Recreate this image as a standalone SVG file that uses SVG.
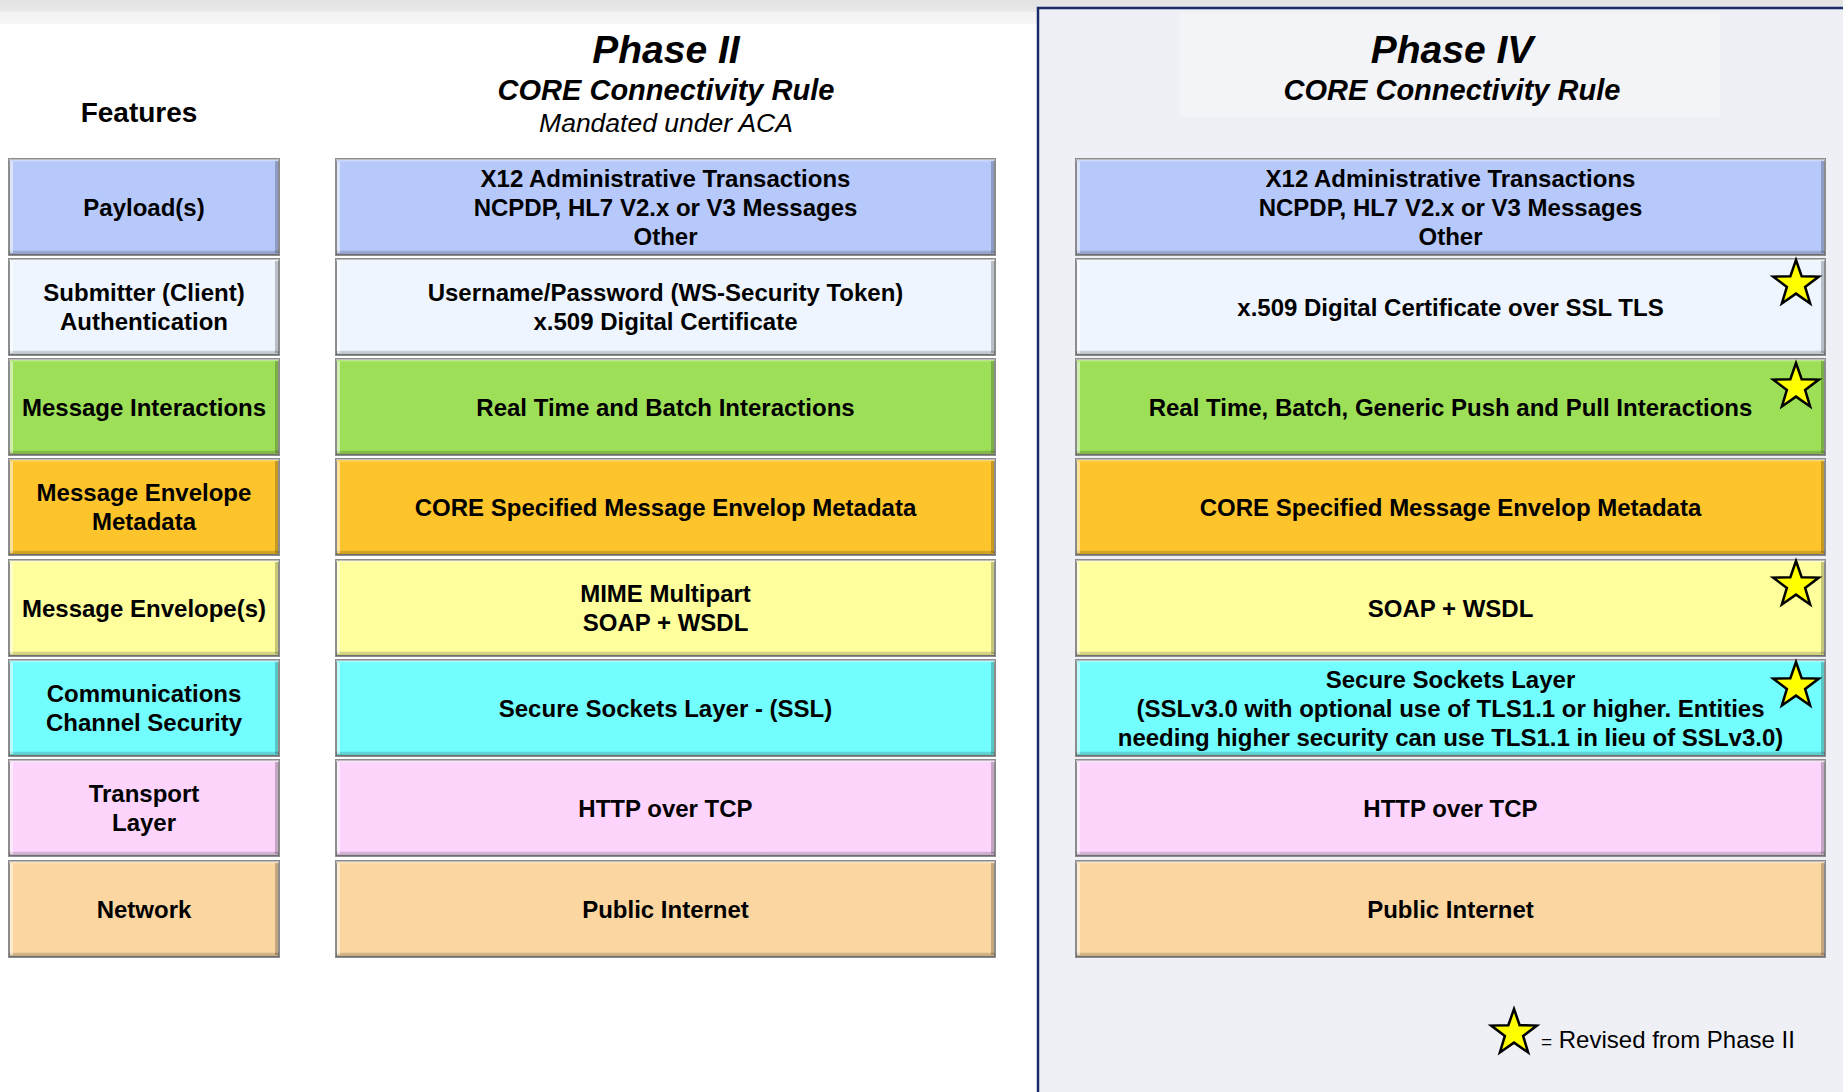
<svg xmlns="http://www.w3.org/2000/svg" xmlns:xlink="http://www.w3.org/1999/xlink" width="1843" height="1092" viewBox="0 0 1843 1092">
<defs>
<style>
text{font-family:"Liberation Sans",Arial,sans-serif;fill:#000;text-anchor:middle}
.b{font-weight:bold;font-size:24px}
.hd{font-weight:bold;font-style:italic}
.box{stroke:#8c8c8c;stroke-width:2}
.lt{fill:none;stroke:#ffffff;stroke-opacity:0.5;stroke-width:3}
.dk{fill:none;stroke:#000000;stroke-opacity:0.22;stroke-width:3}
.star{fill:#ffff00;stroke:#000;stroke-width:2.5;stroke-linejoin:miter}
</style>
<linearGradient id="bevel" x1="0" y1="0" x2="0" y2="1">
<stop offset="0" stop-color="#fff" stop-opacity="0.5"/>
<stop offset="0.035" stop-color="#fff" stop-opacity="0"/>
<stop offset="0.95" stop-color="#000" stop-opacity="0"/>
<stop offset="0.96" stop-color="#000" stop-opacity="0.15"/>
<stop offset="1" stop-color="#000" stop-opacity="0.22"/>
</linearGradient>
<linearGradient id="topband" x1="0" y1="0" x2="0" y2="1">
<stop offset="0" stop-color="#e2e2e2"/>
<stop offset="0.45" stop-color="#e8e8e8"/>
<stop offset="0.5" stop-color="#f2f2f2"/>
<stop offset="1" stop-color="#f7f7f7"/>
</linearGradient>
<path id="star" class="star" d="M0,-24 L5.64,-7.77 L22.83,-7.42 L9.13,2.97 L14.11,19.42 L0,9.6 L-14.11,19.42 L-9.13,2.97 L-22.83,-7.42 L-5.64,-7.77 Z"/>
</defs>

<!-- background -->
<rect x="0" y="0" width="1843" height="1092" fill="#ffffff"/>
<rect x="0" y="0" width="1843" height="24" fill="url(#topband)"/>
<rect x="1038" y="8" width="810" height="1090" fill="#eef0f6" stroke="#1c2a6a" stroke-width="2.5"/>
<rect x="1180" y="13" width="540" height="104" fill="#f3f4f8"/>

<!-- headings -->
<g id="heading-features"><text x="139" y="122" style="font-weight:bold;font-size:28px">Features</text></g>
<g id="heading-phase2">
<text x="666" y="63" class="hd" style="font-size:39px">Phase II</text>
<text x="666" y="100" class="hd" style="font-size:29px">CORE Connectivity Rule</text>
<text x="666" y="132" style="font-style:italic;font-size:26.5px">Mandated under ACA</text>
</g>
<g id="heading-phase4">
<text x="1452" y="63" class="hd" style="font-size:39px">Phase IV</text>
<text x="1452" y="100" class="hd" style="font-size:29px">CORE Connectivity Rule</text>
</g>

<!-- Features column -->
<g id="f-payload"><rect x="9" y="159" width="270" height="96" class="box" fill="#b7c8fa"/><rect x="9" y="159" width="270" height="96" fill="url(#bevel)"/><path class="lt" d="M11.5,253 V161.5"/><path class="dk" d="M276.5,161 V253"/><text x="144" y="215.5" class="b">Payload(s)</text></g>
<g id="f-auth"><rect x="9" y="259" width="270" height="96" class="box" fill="#eef5fe"/><rect x="9" y="259" width="270" height="96" fill="url(#bevel)"/><path class="lt" d="M11.5,353 V261.5"/><path class="dk" d="M276.5,261 V353"/><text x="144" y="301" class="b">Submitter (Client)</text><text x="144" y="330" class="b">Authentication</text></g>
<g id="f-interactions"><rect x="9" y="359" width="270" height="96" class="box" fill="#9edf58"/><rect x="9" y="359" width="270" height="96" fill="url(#bevel)"/><path class="lt" d="M11.5,453 V361.5"/><path class="dk" d="M276.5,361 V453"/><text x="144" y="415.5" class="b">Message Interactions</text></g>
<g id="f-metadata"><rect x="9" y="459" width="270" height="96" class="box" fill="#fec42c"/><rect x="9" y="459" width="270" height="96" fill="url(#bevel)"/><path class="lt" d="M11.5,553 V461.5"/><path class="dk" d="M276.5,461 V553"/><text x="144" y="501" class="b">Message Envelope</text><text x="144" y="530" class="b">Metadata</text></g>
<g id="f-envelope"><rect x="9" y="560" width="270" height="96" class="box" fill="#fefe9c"/><rect x="9" y="560" width="270" height="96" fill="url(#bevel)"/><path class="lt" d="M11.5,654 V562.5"/><path class="dk" d="M276.5,562 V654"/><text x="144" y="616.5" class="b">Message Envelope(s)</text></g>
<g id="f-security"><rect x="9" y="660" width="270" height="96" class="box" fill="#72fefe"/><rect x="9" y="660" width="270" height="96" fill="url(#bevel)"/><path class="lt" d="M11.5,754 V662.5"/><path class="dk" d="M276.5,662 V754"/><text x="144" y="702" class="b">Communications</text><text x="144" y="731" class="b">Channel Security</text></g>
<g id="f-transport"><rect x="9" y="760" width="270" height="96" class="box" fill="#fcd4fc"/><rect x="9" y="760" width="270" height="96" fill="url(#bevel)"/><path class="lt" d="M11.5,854 V762.5"/><path class="dk" d="M276.5,762 V854"/><text x="144" y="802" class="b">Transport</text><text x="144" y="831" class="b">Layer</text></g>
<g id="f-network"><rect x="9" y="861" width="270" height="96" class="box" fill="#fcd6a0"/><rect x="9" y="861" width="270" height="96" fill="url(#bevel)"/><path class="lt" d="M11.5,955 V863.5"/><path class="dk" d="M276.5,863 V955"/><text x="144" y="917.5" class="b">Network</text></g>

<!-- Phase II column -->
<g id="p2-payload"><rect x="336" y="159" width="659" height="96" class="box" fill="#b7c8fa"/><rect x="336" y="159" width="659" height="96" fill="url(#bevel)"/><path class="lt" d="M338.5,253 V161.5"/><path class="dk" d="M992.5,161 V253"/><text x="665.5" y="186.5" class="b">X12 Administrative Transactions</text><text x="665.5" y="215.5" class="b">NCPDP, HL7 V2.x or V3 Messages</text><text x="665.5" y="244.5" class="b">Other</text></g>
<g id="p2-auth"><rect x="336" y="259" width="659" height="96" class="box" fill="#eef5fe"/><rect x="336" y="259" width="659" height="96" fill="url(#bevel)"/><path class="lt" d="M338.5,353 V261.5"/><path class="dk" d="M992.5,261 V353"/><text x="665.5" y="301" class="b">Username/Password (WS-Security Token)</text><text x="665.5" y="330" class="b">x.509 Digital Certificate</text></g>
<g id="p2-interactions"><rect x="336" y="359" width="659" height="96" class="box" fill="#9edf58"/><rect x="336" y="359" width="659" height="96" fill="url(#bevel)"/><path class="lt" d="M338.5,453 V361.5"/><path class="dk" d="M992.5,361 V453"/><text x="665.5" y="415.5" class="b">Real Time and Batch Interactions</text></g>
<g id="p2-metadata"><rect x="336" y="459" width="659" height="96" class="box" fill="#fec42c"/><rect x="336" y="459" width="659" height="96" fill="url(#bevel)"/><path class="lt" d="M338.5,553 V461.5"/><path class="dk" d="M992.5,461 V553"/><text x="665.5" y="515.5" class="b">CORE Specified Message Envelop Metadata</text></g>
<g id="p2-envelope"><rect x="336" y="560" width="659" height="96" class="box" fill="#fefe9c"/><rect x="336" y="560" width="659" height="96" fill="url(#bevel)"/><path class="lt" d="M338.5,654 V562.5"/><path class="dk" d="M992.5,562 V654"/><text x="665.5" y="602" class="b">MIME Multipart</text><text x="665.5" y="631" class="b">SOAP + WSDL</text></g>
<g id="p2-security"><rect x="336" y="660" width="659" height="96" class="box" fill="#72fefe"/><rect x="336" y="660" width="659" height="96" fill="url(#bevel)"/><path class="lt" d="M338.5,754 V662.5"/><path class="dk" d="M992.5,662 V754"/><text x="665.5" y="716.5" class="b">Secure Sockets Layer - (SSL)</text></g>
<g id="p2-transport"><rect x="336" y="760" width="659" height="96" class="box" fill="#fcd4fc"/><rect x="336" y="760" width="659" height="96" fill="url(#bevel)"/><path class="lt" d="M338.5,854 V762.5"/><path class="dk" d="M992.5,762 V854"/><text x="665.5" y="816.5" class="b">HTTP over TCP</text></g>
<g id="p2-network"><rect x="336" y="861" width="659" height="96" class="box" fill="#fcd6a0"/><rect x="336" y="861" width="659" height="96" fill="url(#bevel)"/><path class="lt" d="M338.5,955 V863.5"/><path class="dk" d="M992.5,863 V955"/><text x="665.5" y="917.5" class="b">Public Internet</text></g>

<!-- Phase IV column -->
<g id="p4-payload"><rect x="1076" y="159" width="749" height="96" class="box" fill="#b7c8fa"/><rect x="1076" y="159" width="749" height="96" fill="url(#bevel)"/><path class="lt" d="M1078.5,253 V161.5"/><path class="dk" d="M1822.5,161 V253"/><text x="1450.5" y="186.5" class="b">X12 Administrative Transactions</text><text x="1450.5" y="215.5" class="b">NCPDP, HL7 V2.x or V3 Messages</text><text x="1450.5" y="244.5" class="b">Other</text></g>
<g id="p4-auth"><rect x="1076" y="259" width="749" height="96" class="box" fill="#eef5fe"/><rect x="1076" y="259" width="749" height="96" fill="url(#bevel)"/><path class="lt" d="M1078.5,353 V261.5"/><path class="dk" d="M1822.5,261 V353"/><text x="1450.5" y="315.5" class="b">x.509 Digital Certificate over SSL TLS</text><use xlink:href="#star" x="1796" y="284"/></g>
<g id="p4-interactions"><rect x="1076" y="359" width="749" height="96" class="box" fill="#9edf58"/><rect x="1076" y="359" width="749" height="96" fill="url(#bevel)"/><path class="lt" d="M1078.5,453 V361.5"/><path class="dk" d="M1822.5,361 V453"/><text x="1450.5" y="415.5" class="b">Real Time, Batch, Generic Push and Pull Interactions</text><use xlink:href="#star" x="1796" y="387"/></g>
<g id="p4-metadata"><rect x="1076" y="459" width="749" height="96" class="box" fill="#fec42c"/><rect x="1076" y="459" width="749" height="96" fill="url(#bevel)"/><path class="lt" d="M1078.5,553 V461.5"/><path class="dk" d="M1822.5,461 V553"/><text x="1450.5" y="515.5" class="b">CORE Specified Message Envelop Metadata</text></g>
<g id="p4-envelope"><rect x="1076" y="560" width="749" height="96" class="box" fill="#fefe9c"/><rect x="1076" y="560" width="749" height="96" fill="url(#bevel)"/><path class="lt" d="M1078.5,654 V562.5"/><path class="dk" d="M1822.5,562 V654"/><text x="1450.5" y="616.5" class="b">SOAP + WSDL</text><use xlink:href="#star" x="1796" y="585"/></g>
<g id="p4-security"><rect x="1076" y="660" width="749" height="96" class="box" fill="#72fefe"/><rect x="1076" y="660" width="749" height="96" fill="url(#bevel)"/><path class="lt" d="M1078.5,754 V662.5"/><path class="dk" d="M1822.5,662 V754"/><text x="1450.5" y="687.5" class="b">Secure Sockets Layer</text><text x="1450.5" y="716.5" class="b">(SSLv3.0 with optional use of TLS1.1 or higher. Entities</text><text x="1450.5" y="745.5" class="b">needing higher security can use TLS1.1 in lieu of SSLv3.0)</text><use xlink:href="#star" x="1796" y="686"/></g>
<g id="p4-transport"><rect x="1076" y="760" width="749" height="96" class="box" fill="#fcd4fc"/><rect x="1076" y="760" width="749" height="96" fill="url(#bevel)"/><path class="lt" d="M1078.5,854 V762.5"/><path class="dk" d="M1822.5,762 V854"/><text x="1450.5" y="816.5" class="b">HTTP over TCP</text></g>
<g id="p4-network"><rect x="1076" y="861" width="749" height="96" class="box" fill="#fcd6a0"/><rect x="1076" y="861" width="749" height="96" fill="url(#bevel)"/><path class="lt" d="M1078.5,955 V863.5"/><path class="dk" d="M1822.5,863 V955"/><text x="1450.5" y="917.5" class="b">Public Internet</text></g>

<!-- legend -->
<g id="legend"><use xlink:href="#star" x="1514" y="1033"/><text x="1541" y="1048" style="text-anchor:start;font-size:24px"><tspan style="font-size:19px">=</tspan> Revised from Phase II</text></g>

<g id="connectors"/>
</svg>
